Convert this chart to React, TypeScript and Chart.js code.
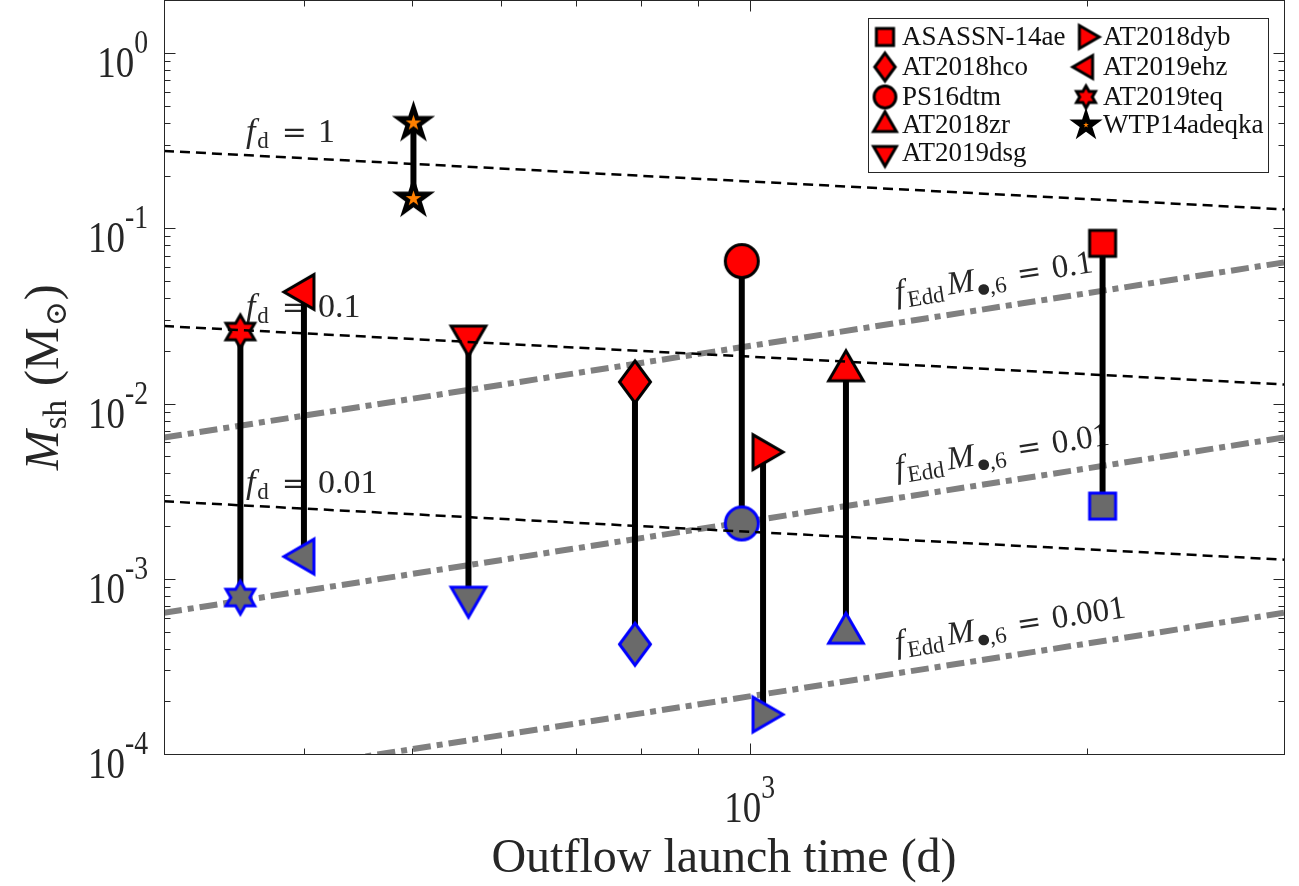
import React, { useEffect, useRef } from 'react';
import { Chart, registerables } from 'chart.js';

Chart.register(...registerables);

// ---------- data ----------
const eventNames = ['ASASSN-14ae', 'AT2018hco', 'PS16dtm', 'AT2018zr', 'AT2019dsg', 'AT2018dyb', 'AT2019ehz', 'AT2019teq', 'WTP14adeqka'];
const launchTime = [2066, 790, 984, 1219, 561, 1028, 400, 351, 501];
const massUpper = [0.0822, 0.0133, 0.0651, 0.0154, 0.0243, 0.00529, 0.0434, 0.0258, 0.40];
const massLower = [0.0026, 0.000423, 0.00207, 0.000489, 0.000785, 0.000168, 0.00134, 0.000782, 0.148];
const markerShapes = ['square', 'diamond', 'circle', 'triUp', 'triDown', 'triRight', 'triLeft', 'hexagram', 'pentagram'];

const lineTimes = [300, 3000];
const fdLabels = ['1', '0.1', '0.01'];
const fdLines = [
  [0.277, 0.1286],
  [0.0277, 0.01286],
  [0.00277, 0.001286],
];
const eddLabels = ['0.1', '0.01', '0.001'];
const eddLines = [
  [0.0064, 0.064],
  [0.00064, 0.0064],
  [0.000064, 0.00064],
];
const fdLabelTime = 355;
const eddLabelTime = 1362;

const xMin = 300;
const xMax = 3000;
const yMin = 1e-4;
const yMax = 2;
const xMajorTicks = [1000];
const xMajorExponents = ['3'];
const xMinorTicks = [400, 500, 600, 700, 800, 900, 2000];
const yMajorTicks = [1, 0.1, 0.01, 0.001, 0.0001];
const yMajorExponents = ['0', '-1', '-2', '-3', '-4'];
const yMinorMultipliers = [2, 3, 4, 5, 6, 7, 8, 9];
const yMinorDecades = [0.0001, 0.001, 0.01, 0.1];

const xTitle = 'Outflow launch time (d)';

// ---------- styles ----------
const SERIF = '"Liberation Serif", "Times New Roman", Times, serif';
const TEXT = '#262626';
const RED = '#FF0000';
const GRAY_FILL = '#6A6A6A';
const BLUE = '#0000FF';
const ORANGE = '#FF8000';
const DASH_GRAY = '#808080';

type Run = { t: string; size: number; italic?: boolean; dy?: number; gap?: number; family?: string };

function fontOf(r: Run) {
  return `${r.italic ? 'italic ' : ''}${r.size}px ${r.family || SERIF}`;
}
function runsWidth(ctx: CanvasRenderingContext2D, runs: Run[]) {
  let w = 0;
  for (const r of runs) {
    ctx.font = fontOf(r);
    w += (r.gap || 0) + ctx.measureText(r.t).width;
  }
  return w;
}
function drawRuns(ctx: CanvasRenderingContext2D, runs: Run[], x: number, y: number) {
  let cx = x;
  for (const r of runs) {
    cx += r.gap || 0;
    ctx.font = fontOf(r);
    ctx.fillText(r.t, cx, y + (r.dy || 0));
    cx += ctx.measureText(r.t).width;
  }
  return cx - x;
}

function polyPath(ctx: CanvasRenderingContext2D, n: number, R: number, startDeg: number) {
  for (let i = 0; i < n; i++) {
    const a = ((startDeg + (i * 360) / n) * Math.PI) / 180;
    const px = R * Math.cos(a);
    const py = R * Math.sin(a);
    if (i === 0) ctx.moveTo(px, py);
    else ctx.lineTo(px, py);
  }
  ctx.closePath();
}
function starPath(ctx: CanvasRenderingContext2D, n: number, R: number, r: number, startDeg: number) {
  for (let i = 0; i < 2 * n; i++) {
    const rad = i % 2 === 0 ? R : r;
    const a = ((startDeg + (i * 180) / n) * Math.PI) / 180;
    const px = rad * Math.cos(a);
    const py = rad * Math.sin(a);
    if (i === 0) ctx.moveTo(px, py);
    else ctx.lineTo(px, py);
  }
  ctx.closePath();
}
function shapePath(ctx: CanvasRenderingContext2D, shape: string, s: number) {
  ctx.beginPath();
  switch (shape) {
    case 'square':
      ctx.rect(-13 * s, -13 * s, 26 * s, 26 * s);
      break;
    case 'circle':
      ctx.arc(0, 0, 16.5 * s, 0, Math.PI * 2);
      break;
    case 'diamond':
      ctx.moveTo(0, -21 * s);
      ctx.lineTo(15.5 * s, 0);
      ctx.lineTo(0, 21 * s);
      ctx.lineTo(-15.5 * s, 0);
      ctx.closePath();
      break;
    case 'triUp':
      polyPath(ctx, 3, 20 * s, -90);
      break;
    case 'triDown':
      polyPath(ctx, 3, 20 * s, 90);
      break;
    case 'triRight':
      polyPath(ctx, 3, 20 * s, 0);
      break;
    case 'triLeft':
      polyPath(ctx, 3, 20 * s, 180);
      break;
    case 'hexagram':
      starPath(ctx, 6, 16.5 * s, (16.5 * s) / Math.sqrt(3), -90);
      break;
    case 'pentagram':
      starPath(ctx, 5, 15.5 * s, 15.5 * s * 0.382, -90);
      break;
  }
}
function makeMarker(shape: string, fill: string, stroke: string, lw: number, s: number) {
  const size = Math.ceil(2 * (26 * s + lw * 5));
  const c = document.createElement('canvas');
  c.width = size;
  c.height = size;
  const ctx = c.getContext('2d') as CanvasRenderingContext2D;
  ctx.translate(size / 2, size / 2);
  shapePath(ctx, shape, s);
  ctx.fillStyle = fill;
  ctx.fill();
  ctx.lineJoin = 'miter';
  ctx.miterLimit = 10;
  ctx.lineWidth = lw;
  ctx.strokeStyle = stroke;
  ctx.stroke();
  return c;
}

function topMarker(i: number, s: number) {
  const shape = markerShapes[i];
  if (shape === 'pentagram') return makeMarker(shape, ORANGE, '#000', 4.5, s);
  return makeMarker(shape, RED, '#000', 3, s);
}
function bottomMarker(i: number) {
  const shape = markerShapes[i];
  if (shape === 'pentagram') return makeMarker(shape, ORANGE, '#000', 4.5, 1);
  return makeMarker(shape, GRAY_FILL, BLUE, 3, 1);
}

function interpLine(chart: any, times: number[], vals: number[], t: number) {
  const xs = chart.scales.x;
  const ys = chart.scales.y;
  const x0 = xs.getPixelForValue(times[0]);
  const x1 = xs.getPixelForValue(times[1]);
  const y0 = ys.getPixelForValue(vals[0]);
  const y1 = ys.getPixelForValue(vals[1]);
  const px = xs.getPixelForValue(t);
  const py = y0 + ((y1 - y0) * (px - x0)) / (x1 - x0);
  return { px, py, angle: Math.atan2(y1 - y0, x1 - x0) };
}

const decorPlugin = {
  id: 'decor',
  beforeDatasetsDraw(chart: any) {
    const ctx: CanvasRenderingContext2D = chart.ctx;
    ctx.save();
    ctx.fillStyle = TEXT;
    ctx.textAlign = 'left';
    ctx.textBaseline = 'alphabetic';
    fdLines.forEach((vals, i) => {
      const { px, py } = interpLine(chart, lineTimes, vals, fdLabelTime);
      const runs: Run[] = [
        { t: 'f', size: 34, italic: true },
        { t: 'd', size: 23, dy: 6, gap: 2 },
        { t: '=', size: 30, family: '"DejaVu Serif", serif', gap: 13 },
        { t: fdLabels[i], size: 34, gap: 11 },
      ];
      drawRuns(ctx, runs, px, py - 13);
    });
    eddLines.forEach((vals, i) => {
      const { px, py, angle } = interpLine(chart, lineTimes, vals, eddLabelTime);
      ctx.save();
      ctx.translate(px, py);
      ctx.rotate(angle);
      const runs: Run[] = [
        { t: 'f', size: 33, italic: true },
        { t: 'Edd', size: 23, dy: 6, gap: 2 },
        { t: 'M', size: 33, italic: true, gap: 4 },
        { t: '\u25CF', size: 14, dy: 4, gap: 2, family: '"DejaVu Sans", sans-serif' },
        { t: ',6', size: 23, dy: 6, gap: 0 },
        { t: '=', size: 29, family: '"DejaVu Serif", serif', gap: 12 },
        { t: eddLabels[i], size: 33, gap: 11 },
      ];
      drawRuns(ctx, runs, 0, -20);
      ctx.restore();
    });
    ctx.restore();
  },
  afterDatasetsDraw(chart: any) {
    const ctx: CanvasRenderingContext2D = chart.ctx;
    const xs = chart.scales.x;
    const ys = chart.scales.y;
    const ca = chart.chartArea;
    const L = Math.floor(ca.left) + 0.5;
    const R = Math.floor(ca.right) + 0.5;
    const T = Math.floor(ca.top) + 0.5;
    const B = Math.floor(ca.bottom) + 0.5;
    ctx.save();
    // frame
    ctx.strokeStyle = TEXT;
    ctx.lineWidth = 1;
    ctx.strokeRect(L, T, R - L, B - T);
    // ticks
    ctx.beginPath();
    const vTick = (v: number, len: number) => {
      const px = Math.round(xs.getPixelForValue(v)) + 0.5;
      ctx.moveTo(px, B);
      ctx.lineTo(px, B - len);
      ctx.moveTo(px, T);
      ctx.lineTo(px, T + len);
    };
    const hTick = (v: number, len: number) => {
      const py = Math.round(ys.getPixelForValue(v)) + 0.5;
      ctx.moveTo(L, py);
      ctx.lineTo(L + len, py);
      ctx.moveTo(R, py);
      ctx.lineTo(R - len, py);
    };
    xMajorTicks.forEach((v) => vTick(v, 11));
    xMinorTicks.forEach((v) => vTick(v, 6));
    yMajorTicks.forEach((v) => {
      if (v > yMin && v < yMax) hTick(v, 11);
    });
    yMinorDecades.forEach((d) => yMinorMultipliers.forEach((m) => hTick(d * m, 6)));
    ctx.stroke();

    // tick labels
    ctx.fillStyle = TEXT;
    ctx.textBaseline = 'alphabetic';
    ctx.textAlign = 'left';
    const mainRun = (exp: string): Run[] => [
      { t: '10', size: 44 },
      { t: exp, size: 33, dy: -24 },
    ];
    const SX = 0.84;
    yMajorTicks.forEach((v, i) => {
      const py = ys.getPixelForValue(v);
      const runs = mainRun(yMajorExponents[i]);
      const w = runsWidth(ctx, runs) * SX;
      ctx.save();
      ctx.translate(148 - w, py + 24);
      ctx.scale(SX, 1);
      drawRuns(ctx, runs, 0, 0);
      ctx.restore();
    });
    xMajorTicks.forEach((v, i) => {
      const px = xs.getPixelForValue(v);
      const runs = mainRun(xMajorExponents[i]);
      const w = runsWidth(ctx, runs) * SX;
      ctx.save();
      ctx.translate(px - w / 2, 822);
      ctx.scale(SX, 1);
      drawRuns(ctx, runs, 0, 0);
      ctx.restore();
    });

    // axis titles
    ctx.font = `48px ${SERIF}`;
    ctx.textAlign = 'center';
    ctx.fillText(xTitle, (ca.left + ca.right) / 2, 872);
    ctx.textAlign = 'left';
    const yRuns: Run[] = [
      { t: 'M', size: 48, italic: true },
      { t: 'sh', size: 33, dy: 8, gap: 1 },
      { t: '(M', size: 48, gap: 14 },
      { t: '\u2299', size: 30, dy: 8, gap: 1, family: '"DejaVu Serif", serif' },
      { t: ')', size: 48, gap: 1 },
    ];
    ctx.save();
    ctx.translate(58, (ca.top + ca.bottom) / 2);
    ctx.rotate(-Math.PI / 2);
    const yw = runsWidth(ctx, yRuns);
    drawRuns(ctx, yRuns, -yw / 2, 0);
    ctx.restore();

    // legend
    const bx = 868.5;
    const by = 18.5;
    const bw = 400;
    const bh = 154;
    ctx.fillStyle = '#FFFFFF';
    ctx.fillRect(bx, by, bw, bh);
    ctx.strokeStyle = TEXT;
    ctx.lineWidth = 1;
    ctx.strokeRect(bx, by, bw, bh);
    const rowsY = [37, 67, 97, 125, 153];
    const colMarkerX = [885, 1086];
    const colTextX = [902, 1103];
    ctx.fillStyle = '#111111';
    ctx.font = `27px ${SERIF}`;
    ctx.textBaseline = 'middle';
    eventNames.forEach((name, i) => {
      const col = i < 5 ? 0 : 1;
      const row = i < 5 ? i : i - 5;
      const mk = topMarker(i, 0.66);
      ctx.drawImage(mk, colMarkerX[col] - mk.width / 2, rowsY[row] - mk.height / 2);
      ctx.fillText(name, colTextX[col], rowsY[row] + 1);
    });
    ctx.restore();
  },
};

export default function App() {
  const canvasRef = useRef<HTMLCanvasElement | null>(null);

  useEffect(() => {
    const canvas = canvasRef.current;
    if (!canvas) return;

    const datasets: any[] = [];
    fdLines.forEach((vals) => {
      datasets.push({
        data: lineTimes.map((t, j) => ({ x: t, y: vals[j] })),
        showLine: true,
        borderColor: '#000000',
        borderWidth: 2.5,
        borderDash: [10, 6],
        borderCapStyle: 'butt',
        pointRadius: 0,
        fill: false,
        order: 0,
      });
    });
    eventNames.forEach((_, i) => {
      datasets.push({
        data: [
          { x: launchTime[i], y: massUpper[i] },
          { x: launchTime[i], y: massLower[i] },
        ],
        showLine: true,
        borderColor: '#000000',
        borderWidth: 6,
        borderCapStyle: 'butt',
        pointStyle: [topMarker(i, 1), bottomMarker(i)],
        pointRadius: 10,
        fill: false,
        order: 2,
      });
    });
    eddLines.forEach((vals) => {
      datasets.push({
        data: lineTimes.map((t, j) => ({ x: t, y: vals[j] })),
        showLine: true,
        borderColor: DASH_GRAY,
        borderWidth: 6,
        borderDash: [18, 6, 6, 6],
        borderCapStyle: 'butt',
        pointRadius: 0,
        fill: false,
        order: 3,
      });
    });

    const chart = new Chart(canvas, {
      type: 'scatter',
      data: { datasets },
      options: {
        animation: false,
        responsive: false,
        events: [],
        layout: { autoPadding: false, padding: { left: 164, right: 15, top: 0.5, bottom: 132 } },
        scales: {
          x: { type: 'logarithmic', min: xMin, max: xMax, display: false },
          y: { type: 'logarithmic', min: yMin, max: yMax, display: false },
        },
        plugins: { legend: { display: false }, tooltip: { enabled: false } },
      },
      plugins: [decorPlugin],
    } as any);

    return () => chart.destroy();
  }, []);

  return (
    <div style={{ position: 'fixed', left: 0, top: 0, width: 1299, height: 886, background: '#ffffff' }}>
      <canvas ref={canvasRef} width={1299} height={886} style={{ display: 'block' }} />
    </div>
  );
}
